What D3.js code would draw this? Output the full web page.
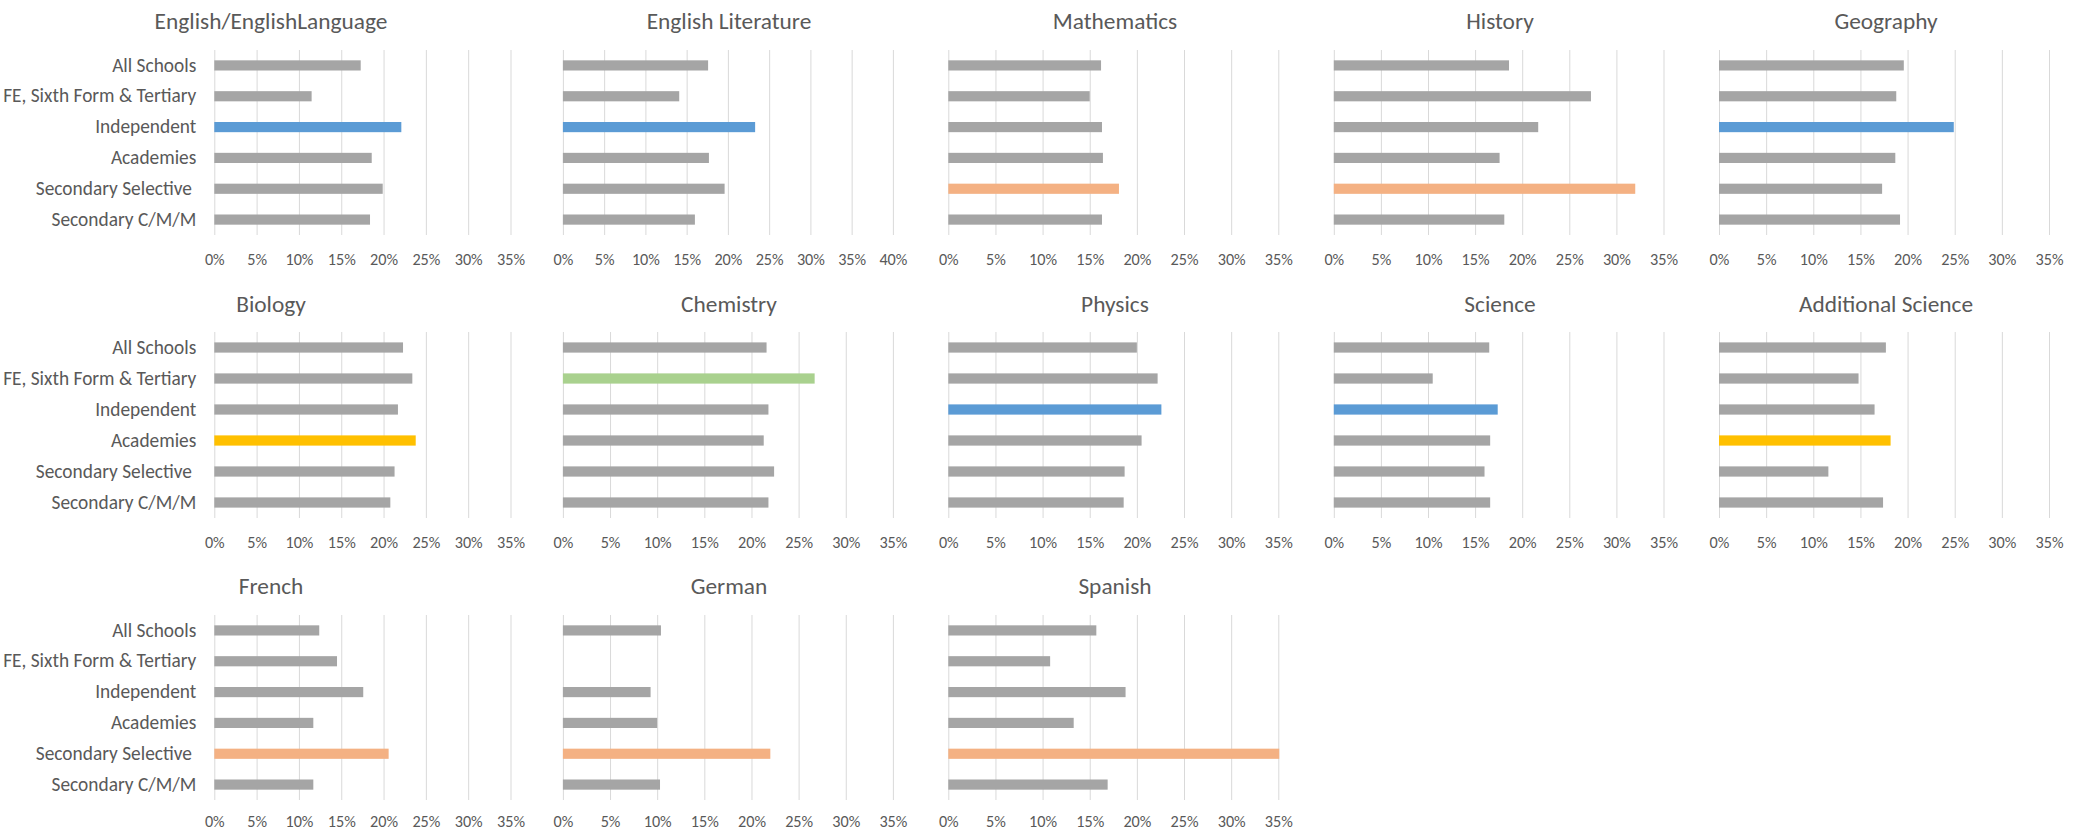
<!DOCTYPE html>
<html>
<head>
<meta charset="utf-8">
<script src="https://cdn.jsdelivr.net/npm/d3@7"></script>
<style>
  html, body { margin: 0; padding: 0; background: #fff; }
  svg { display: block; }
  text { font-family: Carlito, Calibri, Lato, "Open Sans", sans-serif; fill: #595959; }
</style>
</head>
<body>
<svg id="chart" width="2087" height="834"></svg>
<script>
// ---------------- DATA ----------------
const categories = ["All Schools", "FE, Sixth Form & Tertiary", "Independent", "Academies", "Secondary Selective ", "Secondary C/M/M"];
const subjects = ["English/EnglishLanguage", "English Literature", "Mathematics", "History", "Geography",
                  "Biology", "Chemistry", "Physics", "Science", "Additional Science",
                  "French", "German", "Spanish"];

const englishLanguage   = [0.173, 0.115, 0.221, 0.186, 0.199, 0.184];
const englishLiterature = [0.176, 0.141, 0.233, 0.177, 0.196, 0.160];
const mathematics       = [0.162, 0.150, 0.163, 0.164, 0.181, 0.163];
const history           = [0.186, 0.273, 0.217, 0.176, 0.320, 0.181];
const geography         = [0.196, 0.188, 0.249, 0.187, 0.173, 0.192];
const biology           = [0.223, 0.234, 0.217, 0.238, 0.213, 0.208];
const chemistry         = [0.216, 0.267, 0.218, 0.213, 0.224, 0.218];
const physics           = [0.200, 0.222, 0.226, 0.205, 0.187, 0.186];
const science           = [0.165, 0.105, 0.174, 0.166, 0.160, 0.166];
const additionalScience = [0.177, 0.148, 0.165, 0.182, 0.116, 0.174];
const french            = [0.124, 0.145, 0.176, 0.117, 0.206, 0.117];
const german            = [0.104, null,  0.093, 0.100, 0.220, 0.103];
const spanish           = [0.157, 0.108, 0.188, 0.133, 0.351, 0.169];

const seriesValues = [englishLanguage, englishLiterature, mathematics, history, geography,
                      biology, chemistry, physics, science, additionalScience,
                      french, german, spanish];

// highlighted category in each subject
const highlighted = ["Independent", "Independent", "Secondary Selective ", "Secondary Selective ", "Independent",
                     "Academies", "FE, Sixth Form & Tertiary", "Independent", "Independent", "Academies",
                     "Secondary Selective ", "Secondary Selective ", "Secondary Selective "];

// x-axis maximum for each subject
const axisMax = [0.35, 0.40, 0.35, 0.35, 0.35,
                 0.35, 0.35, 0.35, 0.35, 0.35,
                 0.35, 0.35, 0.35];
const tickStep = 0.05;

const categoryColors = {
  "Independent": "#5B9BD5",
  "Secondary Selective ": "#F4B183",
  "Academies": "#FFC000",
  "FE, Sixth Form & Tertiary": "#A9D18E"
};
const baseColor = "#A5A5A5";

// ---------------- LAYOUT ----------------
const colPlotX = [[214.3, 510.5], [562.9, 892.9], [948.3, 1278.3], [1333.8, 1663.5], [1719, 2049]];
const colTitleX = [271, 729, 1115, 1500, 1886];
const rowPlotY = [[50, 235], [332, 518], [615, 800]];
const rowTitleY = [21, 304, 586];
const rowTickOffset = [24.5, 24.5, 21.5];

const svg = d3.select("#chart");

// fit font sizes so the total text width matches the reference
function fitSize(strs, targetWidth) {
  let w = 0;
  strs.forEach(s => {
    const t = svg.append("text").attr("font-size", 100).text(s.trim());
    w += t.node().getComputedTextLength();
    t.remove();
  });
  return 100 * targetWidth / w;
}
const catSize = fitSize(categories, 765);
const titleSize = fitSize(subjects, 1386);
const tickSize = fitSize(["35%"], 28);

subjects.forEach((subject, i) => {
  const col = i % 5, row = Math.floor(i / 5);
  const [x0, x1] = colPlotX[col];
  const [y0, y1] = rowPlotY[row];
  const values = seriesValues[i];
  const tickPad = rowTickOffset[row] - 0.35 * tickSize;

  const x = d3.scaleLinear().domain([0, axisMax[i]]).range([x0, x1]);
  const y = d3.scaleBand().domain(categories).range([y0, y1]).paddingInner(0.67).paddingOuter(0.335);

  const g = svg.append("g");

  // gridlines + tick labels
  const ticks = d3.range(0, axisMax[i] + 1e-9, tickStep);
  const xAxis = d3.axisBottom(x).tickValues(ticks).tickFormat(d3.format(".0%"))
                  .tickSize(-(y1 - y0)).tickPadding(tickPad);
  const ax = g.append("g").attr("transform", `translate(0,${y1})`).call(xAxis);
  ax.select(".domain").remove();
  ax.selectAll(".tick line").attr("stroke", "#D9D9D9").attr("stroke-width", 1);
  ax.selectAll(".tick text").attr("font-size", tickSize).attr("fill", "#595959");

  // bars
  g.selectAll("rect.bar")
    .data(categories.map((c, k) => ({c, v: values[k]})).filter(d => d.v != null))
    .join("rect")
    .attr("class", "bar")
    .attr("x", x(0))
    .attr("y", d => y(d.c))
    .attr("width", d => x(d.v) - x(0))
    .attr("height", y.bandwidth())
    .attr("fill", d => d.c === highlighted[i] ? categoryColors[d.c] : baseColor);

  // category labels only on first column
  if (col === 0) {
    const yAxis = d3.axisLeft(y).tickSize(0).tickPadding(18);
    const ay = g.append("g").attr("transform", `translate(${x0},0)`).call(yAxis);
    ay.select(".domain").remove();
    ay.selectAll(".tick text").attr("font-size", catSize).attr("fill", "#595959")
      .style("white-space", "pre");
  }

  // title
  g.append("text")
    .attr("x", colTitleX[col])
    .attr("y", rowTitleY[row])
    .attr("text-anchor", "middle")
    .attr("dominant-baseline", "central")
    .attr("font-size", titleSize)
    .attr("fill", "#595959")
    .text(subject);
});
</script>
</body>
</html>
